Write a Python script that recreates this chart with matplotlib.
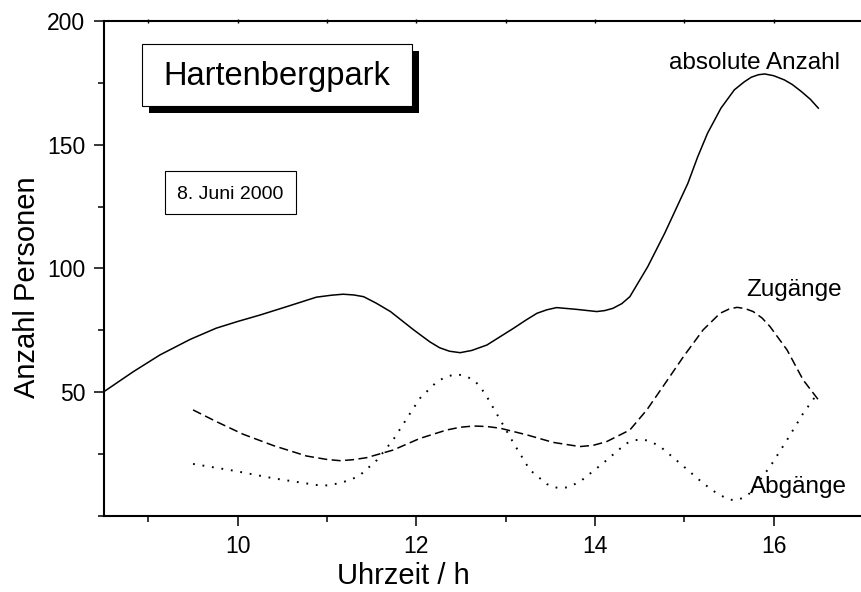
import matplotlib
matplotlib.use("Agg")
import matplotlib.pyplot as plt
from matplotlib.patches import Rectangle
from matplotlib.ticker import MultipleLocator

plt.rcParams['font.family'] = ['Liberation Sans', 'DejaVu Sans']
plt.rcParams['lines.scale_dashes'] = False

# ---- data ----
abs_x = [8.50, 8.83, 9.13, 9.47, 9.76, 10.00, 10.25, 10.55, 10.88, 11.05, 11.18, 11.30,
         11.41, 11.55, 11.71, 11.97, 12.15, 12.26, 12.37, 12.49, 12.62, 12.79, 13.09,
         13.22, 13.35, 13.46, 13.57, 13.79, 14.02, 14.11, 14.20, 14.30, 14.39, 14.59,
         14.78, 15.04, 15.15, 15.26, 15.41, 15.56, 15.67, 15.75, 15.83, 15.90, 16.00,
         16.12, 16.21, 16.31, 16.41, 16.50]
abs_y = [50.2, 58.3, 65.1, 71.4, 75.9, 78.6, 81.2, 84.6, 88.4, 89.2, 89.6, 89.3,
         88.6, 86.0, 82.6, 75.2, 70.4, 68.0, 66.6, 66.0, 66.9, 69.1, 75.9,
         79.0, 81.9, 83.3, 84.2, 83.5, 82.6, 83.0, 83.9, 85.8, 88.6, 100.7,
         114.2, 134.4, 145.1, 154.6, 164.7, 172.1, 175.3, 177.2, 178.2, 178.5, 177.8,
         176.1, 174.2, 171.4, 168.3, 164.7]

zu_x = [9.50, 9.76, 10.06, 10.40, 10.77, 11.00, 11.15, 11.29, 11.44, 11.74, 12.04,
        12.34, 12.49, 12.64, 12.79, 12.94, 13.24, 13.53, 13.83, 13.98, 14.13, 14.39,
        14.58, 14.76, 14.99, 15.21, 15.40, 15.50, 15.59, 15.68, 15.77, 15.87, 15.96,
        16.15, 16.33, 16.50]
zu_y = [42.9, 38.2, 33.1, 28.5, 24.3, 22.9, 22.4, 22.8, 23.6, 26.7, 31.4,
        34.8, 35.9, 36.4, 36.2, 35.5, 32.8, 29.8, 28.1, 28.6, 30.1, 34.8,
        42.9, 52.3, 64.4, 75.2, 81.9, 83.6, 84.3, 83.8, 82.6, 80.0, 76.5,
        67.1, 55.0, 47.0]

ab_x = [9.50, 9.95, 10.40, 10.88, 11.02, 11.15, 11.26, 11.37, 11.56, 11.74, 11.93,
        12.04, 12.23, 12.34, 12.45, 12.54, 12.64, 12.71, 12.79, 12.94, 13.09, 13.27,
        13.46, 13.53, 13.61, 13.70, 13.83, 14.09, 14.35, 14.45, 14.54, 14.63, 14.73,
        14.95, 15.21, 15.35, 15.47, 15.53, 15.59, 15.66, 15.73, 15.96, 16.15, 16.33,
        16.50]
ab_y = [21.1, 18.4, 15.3, 12.6, 12.4, 13.5, 14.6, 16.6, 22.7, 30.8, 41.5,
        47.6, 54.3, 56.4, 57.3, 56.7, 55.0, 52.5, 48.2, 38.8, 29.4, 18.7,
        13.0, 11.8, 11.3, 11.7, 13.9, 21.4, 29.4, 30.7, 31.0, 30.0, 28.1,
        21.4, 13.3, 9.6, 7.2, 6.6, 6.5, 7.5, 9.2, 20.0, 30.8, 41.5,
        50.0]

x_ticks = [10, 12, 14, 16]
y_ticks = [50, 100, 150, 200]
title_text = "Hartenbergpark"
date_text = "8. Juni 2000"
xlabel = "Uhrzeit / h"
ylabel = "Anzahl Personen"
labels = ["absolute Anzahl", "Zugänge", "Abgänge"]
label_pos = [(14.83, 180.5), (15.69, 88.7), (15.73, 9.3)]

W, H = 862, 592
fig = plt.figure(figsize=(W / 100, H / 100), dpi=100)
ax = fig.add_axes([103.7 / W, 75.8 / H, 759.3 / W, 495.5 / H])

ax.plot(abs_x, abs_y, color='black', lw=1.1, solid_joinstyle='round')
ax.plot(zu_x, zu_y, color='black', lw=1.1, linestyle=(0, (6.5, 3.2)))
ax.plot(ab_x, ab_y, color='black', lw=1.4, linestyle=(0, (1.3, 5.6)))

ax.set_xlim(8.5, 17)
ax.set_ylim(0, 200)
ax.set_xticks(x_ticks)
ax.set_yticks(y_ticks)
ax.xaxis.set_minor_locator(MultipleLocator(1))
ax.yaxis.set_minor_locator(MultipleLocator(25))

ax.spines['right'].set_visible(False)
ax.spines['top'].set_visible(False)
for s in ['left', 'bottom']:
    ax.spines[s].set_linewidth(1.5)

ax.tick_params(which='major', direction='out', length=7.2, width=1.1,
               labelsize=16.5, pad=6)
ax.tick_params(which='minor', direction='out', length=4.3, width=1.1)

top = ax.secondary_xaxis('top')
top.set_xticks(list(range(9, 18)))
top.tick_params(direction='inout', length=2.5, width=1.0, labeltop=False)
top.spines['top'].set_linewidth(1.5)

for (txt, (lx, ly)) in zip(labels, label_pos):
    ax.text(lx, ly, txt, fontsize=17.5, ha='left', va='baseline')

fig.text(403.8 / W, (H - 584) / H, xlabel, fontsize=21, ha='center', va='baseline')
fig.text(35 / W, (H - 287) / H, ylabel, fontsize=21, rotation=90,
         rotation_mode='anchor', ha='center', va='baseline')

# title box with shadow
def box(x0, y0, x1, y1, shadow=0, lw=0.8):
    if shadow:
        fig.add_artist(Rectangle(((x0 + shadow) / W, (H - y1 - shadow) / H),
                                 (x1 - x0) / W, (y1 - y0) / H,
                                 transform=fig.transFigure, facecolor='black',
                                 edgecolor='black', lw=0, zorder=5))
    fig.add_artist(Rectangle((x0 / W, (H - y1) / H), (x1 - x0) / W, (y1 - y0) / H,
                             transform=fig.transFigure, facecolor='white',
                             edgecolor='black', lw=lw, zorder=6))

box(141.7, 44, 411.7, 106, shadow=7.3)
fig.text(276.7 / W, (H - 85) / H, title_text, fontsize=23.5, ha='center',
         va='baseline', zorder=7)
box(165, 170.7, 295.7, 214.3)
fig.text(230.3 / W, (H - 199.3) / H, date_text, fontsize=14, ha='center',
         va='baseline', zorder=7)

fig.savefig("out.png", dpi=100)
